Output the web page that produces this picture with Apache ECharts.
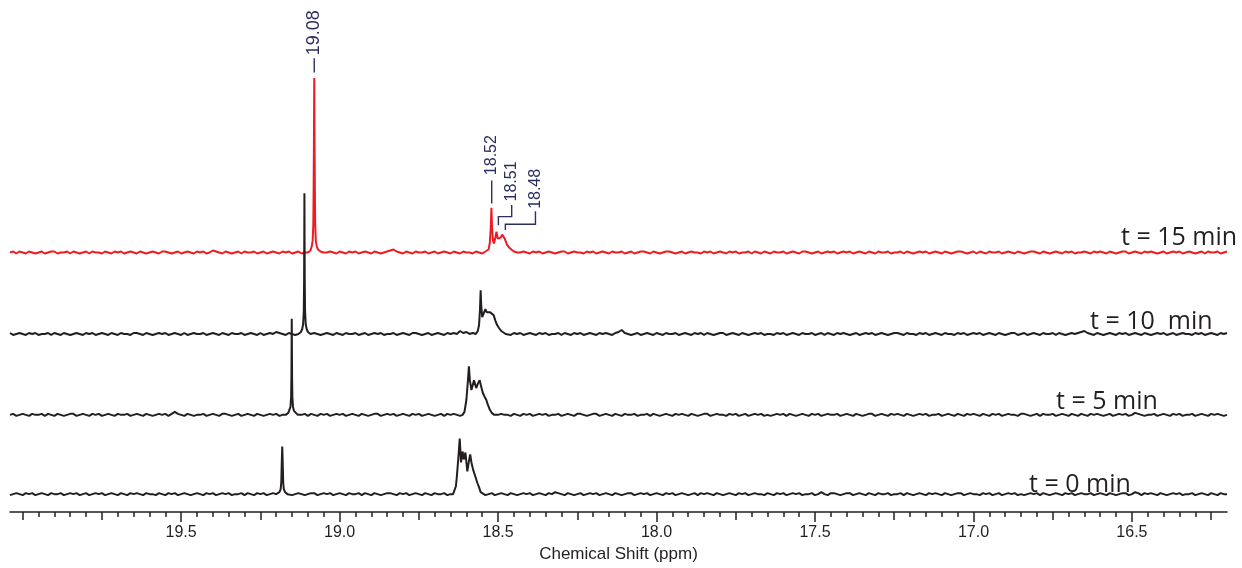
<!DOCTYPE html>
<html>
<head>
<meta charset="utf-8">
<script src="https://cdn.jsdelivr.net/npm/echarts@6/dist/echarts.min.js"></script>
<style>
html,body{margin:0;padding:0;background:#fff}
#nmr{width:1242px;height:568px}
</style>
</head>
<body>
<div id="nmr"></div>
<script>
// stacked 1H NMR spectra, 19.2 - 18.4 ppm region, four reaction times

// axis ticks (ppm)
const majorTicks = [16.5, 17.0, 17.5, 18.0, 18.5, 19.0, 19.5];
const mediumTicks = [16.25, 16.75, 17.25, 17.75, 18.25, 18.75, 19.25, 19.75, 20.0];
const tickLabels = [16.5, 17.0, 17.5, 18.0, 18.5, 19.0, 19.5];

// trace names, top to bottom
const traceNames = ["t = 15 min", "t = 10  min", "t = 5 min", "t = 0 min"];

// baseline noise, sampled from 20.04 ppm down to 16.20 ppm every 0.01 ppm
const noiseStart = 20.04;
const noiseStep = 0.01;
const noise15 = [
  0,1,-1,1,0,-1,1,0,-1,0,1,-1,0,1,1,-1,0,0,1,-1,
  1,0,-1,0,1,-1,1,0,0,-1,1,0,-1,1,0,1,-1,0,1,0,
  -1,1,0,-1,0,1,0,-1,1,1,0,-1,0,1,-1,0,1,0,-1,1,
  0,1,-1,0,2,1,0,-1,1,0,-1,0,1,-1,1,0,0,1,-1,0,
  1,-1,0,1,0,-1,1,0,1,-1,0,1,-1,0,1,0,-1,1,0,-1,
  0,1,0,-1,1,0,-1,1,0,1,-1,0,1,0,-1,1,0,-1,0,1,
  2,3,1,0,-1,1,0,-1,1,0,0,1,-1,0,1,-1,0,1,0,-1,
  1,0,-1,1,0,0,-1,1,0,-1,1,0,1,-1,0,1,0,-1,1,0,
  -1,0,1,0,-1,1,0,1,-1,0,1,0,-1,0,1,1,-1,0,1,0,
  0,-1,1,0,1,-1,0,1,0,-1,1,0,0,1,-1,0,1,-1,0,1,
  1,0,-1,1,0,-1,0,1,1,0,-1,0,1,-1,0,1,0,0,-1,1,
  0,1,-1,0,1,0,-1,1,0,1,-1,0,0,1,-1,1,0,-1,1,0,
  -1,1,0,0,1,-1,0,1,0,-1,1,1,0,-1,0,1,-1,0,1,0,
  1,-1,0,1,0,1,-1,0,1,0,-1,1,0,-1,1,0,0,1,-1,0,
  0,1,-1,1,0,-1,0,1,0,1,-1,0,1,0,-1,1,0,-1,0,1,
  1,0,-1,0,1,-1,1,0,-1,1,0,0,1,-1,0,1,0,-1,1,0,
  -1,0,1,1,0,-1,1,0,-1,0,1,0,-1,1,0,1,-1,0,0,1,
  0,-1,1,0,1,0,-1,1,0,-1,0,1,1,-1,0,1,0,-1,1,0,
  1,0,-1,0,1,-1,0,1,0,1,-1,0,1,0,-1,0,1,-1,1,0,
  0,1,-1,0,1
];
const noise10 = [
  1,-1,0,1,0,-1,1,0,1,-1,0,0,1,-1,1,0,-1,1,0,-1,
  0,1,0,-1,1,0,1,-1,0,1,0,-1,1,0,-1,1,0,0,-1,1,
  1,0,-1,1,0,-1,0,1,0,1,-1,0,1,0,-1,1,-1,0,1,0,
  0,1,-1,0,1,0,-1,1,0,-1,1,0,0,1,-1,0,1,0,-1,1,
  -1,0,1,0,2,1,0,-1,1,0,-1,1,0,1,-1,0,1,0,-1,0,
  1,0,-1,1,0,-1,1,0,0,1,-1,0,1,-1,0,1,0,1,-1,0,
  0,1,-1,0,1,0,-1,1,1,0,-1,0,1,-1,0,1,0,-1,1,0,
  1,0,3,1,2,0,1,0,-1,1,0,-1,0,1,0,-1,1,0,-1,1,
  0,1,-1,0,1,0,-1,1,0,1,-1,0,0,1,-1,1,0,-1,1,0,
  1,-1,0,1,0,-1,1,0,1,0,-1,1,2,4,1,0,-1,0,1,-1,
  0,1,0,-1,1,0,-1,1,0,0,1,-1,0,1,0,-1,1,0,1,-1,
  1,0,-1,0,1,1,-1,0,1,0,-1,1,0,-1,0,1,0,1,-1,0,
  0,-1,1,0,1,-1,0,1,0,-1,1,0,0,1,-1,0,1,-1,1,0,
  -1,1,0,1,0,-1,0,1,-1,0,1,0,1,-1,0,1,0,-1,0,1,
  1,0,-1,1,0,0,-1,1,0,1,-1,0,1,0,-1,1,0,0,-1,1,
  0,1,-1,0,1,0,1,-1,0,1,0,-1,1,0,-1,0,1,1,-1,0,
  1,-1,0,1,0,-1,1,0,0,1,-1,1,0,-1,0,1,0,1,2,3,
  1,0,-1,1,0,-1,0,1,0,-1,1,0,1,-1,0,1,0,-1,1,0,
  -1,0,1,0,1,-1,0,1,-1,0,1,0,0,-1,1,0,1,-1,0,1,
  0,-1,1,0,1
];
const noise5 = [
  0,1,-1,0,1,0,-1,1,0,0,1,-1,1,0,-1,1,0,-1,0,1,
  1,-1,0,1,0,-1,1,0,1,-1,0,1,0,-1,1,0,0,1,-1,0,
  1,0,-1,1,0,-1,0,1,0,1,-1,1,3,1,0,-1,1,0,-1,0,
  0,1,-1,0,1,0,-1,1,1,0,-1,0,1,-1,0,1,0,-1,1,0,
  -1,0,1,0,1,-1,0,1,0,-1,1,0,0,1,-1,1,0,-1,1,0,
  1,-1,0,1,0,1,-1,0,1,0,-1,1,0,-1,0,1,1,-1,0,1,
  0,1,-1,0,1,0,-1,1,0,1,-1,0,1,0,-1,0,1,-1,1,0,
  1,0,-1,1,0,-1,0,1,0,-1,1,0,1,-1,0,1,0,0,-1,1,
  0,-1,1,0,1,-1,0,1,0,1,-1,0,0,1,-1,0,1,0,-1,1,
  1,0,-1,0,1,1,-1,0,1,0,-1,1,0,-1,1,0,0,1,-1,0,
  0,1,-1,1,0,-1,0,1,0,-1,1,0,1,0,-1,1,0,-1,0,1,
  1,-1,0,1,0,0,-1,1,0,1,-1,0,1,-1,0,1,0,1,-1,0,
  -1,0,1,0,1,-1,1,0,-1,0,1,0,-1,1,0,1,-1,0,1,0,
  0,1,-1,0,1,0,-1,1,0,-1,0,1,1,-1,0,1,0,-1,1,0,
  1,0,-1,1,0,-1,0,1,0,1,-1,0,0,1,-1,0,1,0,-1,1,
  0,-1,1,0,1,0,-1,1,0,-1,1,0,1,-1,0,1,0,0,-1,1,
  1,0,-1,0,1,-1,1,0,0,1,-1,0,1,0,-1,1,0,-1,1,0,
  -1,1,0,1,0,-1,0,1,-1,0,1,0,1,-1,0,2,1,0,-1,0,
  0,1,-1,0,1,0,-1,1,0,1,-1,0,0,1,-1,0,1,0,-1,1,
  0,1,0,-1,0
];
const noise0 = [
  -1,0,1,0,-1,1,0,1,-1,0,1,0,-1,1,0,0,1,-1,0,1,
  0,1,-1,0,1,-1,0,1,0,1,-1,0,1,0,-1,1,0,-1,1,0,
  1,0,-1,1,0,0,-1,1,0,-1,1,0,1,-1,0,1,0,-1,0,1,
  0,-1,1,0,1,-1,0,1,0,1,-1,0,0,1,-1,1,0,-1,1,0,
  1,-1,0,1,0,-1,1,0,1,-1,0,1,0,-1,0,1,1,-1,0,1,
  0,1,-1,0,1,0,-1,1,0,0,1,-1,1,0,-1,1,0,-1,0,1,
  1,0,-1,1,0,1,-1,0,1,0,-1,1,0,-1,1,0,0,1,-1,0,
  0,1,-1,0,1,0,-1,1,1,0,-1,0,1,-1,0,1,0,-1,1,0,
  -1,0,1,0,1,-1,0,1,0,-1,1,0,2,1,0,-1,1,0,-1,0,
  1,-1,0,1,0,1,-1,0,1,0,-1,1,0,-1,0,1,1,-1,0,1,
  0,1,-1,0,1,0,-1,1,0,1,-1,0,1,0,-1,0,1,-1,1,0,
  1,0,-1,1,0,-1,0,1,0,-1,1,0,1,-1,0,1,0,0,-1,1,
  0,-1,1,0,1,-1,0,1,0,1,-1,0,0,1,-1,0,2,0,-1,1,
  1,0,-1,0,1,1,-1,0,1,0,-1,1,0,-1,1,0,0,1,-1,0,
  0,1,-1,1,0,-1,0,1,0,-1,1,0,1,0,-1,1,0,-1,0,1,
  1,-1,0,1,0,0,-1,1,0,1,-1,0,1,-1,0,1,0,1,-1,0,
  -1,0,1,0,1,-1,1,0,-1,0,1,0,-1,1,0,1,-1,0,1,0,
  0,1,-1,0,1,0,-1,1,0,-1,0,1,1,-1,0,2,1,-1,1,0,
  1,0,-1,1,0,-1,0,1,0,1,-1,0,0,1,-1,0,1,0,-1,1,
  0,-1,1,0,0
];

// singlets [ppm, intensity]
const single15 = [[19.100,0],[19.092,2],[19.088,6],[19.085,12],[19.083,28],[19.082,60],[19.081,110],[19.080,176],[19.079,110],[19.078,60],[19.077,28],[19.075,12],[19.072,6],[19.068,3],[19.060,1],[19.052,0]];
const single10 = [[19.130,0],[19.122,2],[19.118,5],[19.115,10],[19.113,24],[19.112,55],[19.1115,95],[19.111,142],[19.1105,95],[19.110,55],[19.109,24],[19.107,10],[19.104,5],[19.100,2],[19.092,0]];
const single5 = [[19.170,0],[19.162,2],[19.158,4],[19.155,8],[19.153,18],[19.152,40],[19.1515,68],[19.151,97],[19.1505,68],[19.150,40],[19.149,18],[19.147,8],[19.144,4],[19.140,2],[19.132,0]];
const single0 = [[19.198,0],[19.190,2],[19.186,5],[19.184,12],[19.183,25],[19.182,38],[19.181,48],[19.180,38],[19.179,25],[19.178,12],[19.176,5],[19.172,2],[19.164,0]];

// multiplets [ppm, intensity]
const multi15 = [[18.536,0],[18.530,3],[18.526,10],[18.523,25],[18.521,45],[18.519,25],[18.516,12],[18.513,9],[18.509,14],[18.505,21],[18.501,14],[18.497,13],[18.492,15],[18.487,18],[18.484,18],[18.479,14],[18.472,8],[18.465,5],[18.458,3],[18.450,1],[18.440,0]];
const multi10 = [[18.570,0],[18.564,3],[18.560,9],[18.557,25],[18.555,44],[18.553,28],[18.550,17],[18.545,21],[18.540,25],[18.536,22],[18.532,20],[18.526,22],[18.520,24],[18.514,19],[18.508,13],[18.503,9],[18.497,6],[18.490,3],[18.484,1],[18.476,0]];
const multi5 = [[18.612,0],[18.606,3],[18.600,15],[18.595,35],[18.592,49],[18.589,35],[18.584,25],[18.576,35],[18.569,27],[18.563,32],[18.558,35],[18.553,28],[18.548,22],[18.542,18],[18.537,15],[18.532,10],[18.527,6],[18.520,2],[18.512,0]];
const multi0 = [[18.642,0],[18.637,2],[18.633,8],[18.630,18],[18.625,38],[18.621,56],[18.619,45],[18.617,32],[18.612,43],[18.608,35],[18.603,42],[18.597,23],[18.592,33],[18.588,40],[18.584,32],[18.579,25],[18.571,17],[18.565,11],[18.560,7],[18.555,2],[18.549,0]];

// peak picking labels on the top trace
const annoLabels = ["19.08", "18.52", "18.51", "18.48"];
const annoTextPpm = [19.08, 18.52, 18.457, 18.382];
const annoPeakPpm = [19.08, 18.52, 18.499, 18.477];
const annoTextY = [199, 78, 51.5, 44];
const annoTopY = [196, 72.5, 47.8, 41.5];
const annoElbowY = [181.5, 49.5, 36.2, 28.5];
const annoEndY = [181.5, 49.5, 27.5, 22.8];
const annoFont = [18, 16, 16, 16];

// stacking
const traceOffset = [243.8, 161.6, 80, 0];
const traceColor = ["#ed1c24", "#231f20", "#231f20", "#231f20"];
const labelPos = [[1121, 238], [1090, 322], [1056, 402], [1029, 485]];

function buildTrace(noise, peaks) {
  let pts = [];
  noise.forEach((v, i) => {
    let ppm = +(noiseStart - noiseStep * i).toFixed(3);
    let inside = peaks.some(p => ppm <= p[0][0] && ppm >= p[p.length - 1][0]);
    if (!inside) pts.push([ppm, v]);
  });
  peaks.forEach(p => p.forEach(q => pts.push(q)));
  pts.sort((a, b) => b[0] - a[0]);
  return pts;
}

const traces = [
  buildTrace(noise15, [single15, multi15]),
  buildTrace(noise10, [single10, multi10]),
  buildTrace(noise5, [single5, multi5]),
  buildTrace(noise0, [single0, multi0])
];

let minorTicks = [];
for (let k = 326; k <= 400; k++) {
  if (k % 5 !== 0) minorTicks.push(+(k * 0.05).toFixed(2));
}

const axisColor = "#231f20";
const navy = "#2b2e5e";

function xAxisBase() {
  return {
    type: "value",
    gridIndex: 0,
    position: "bottom",
    offset: 0,
    min: 16.2,
    max: 20.04,
    inverse: true,
    splitLine: { show: false },
    axisLine: { show: false, onZero: false },
    axisLabel: { show: false }
  };
}

let axMajor = xAxisBase();
axMajor.axisLine = { show: true, onZero: false, lineStyle: { color: axisColor, width: 1.5 } };
axMajor.axisTick = { show: true, inside: false, length: 10, customValues: majorTicks, lineStyle: { color: axisColor, width: 1.5 } };
axMajor.axisLabel = {
  show: true, customValues: tickLabels, margin: 13,
  formatter: v => v.toFixed(1),
  color: axisColor, fontSize: 16, fontFamily: "Liberation Sans"
};
axMajor.name = "Chemical Shift (ppm)";
axMajor.nameLocation = "middle";
axMajor.nameGap = 34;
axMajor.nameTextStyle = { color: axisColor, fontSize: 17, fontFamily: "Liberation Sans" };

let axMedium = xAxisBase();
axMedium.axisTick = { show: true, length: 8, customValues: mediumTicks, lineStyle: { color: axisColor, width: 1.5 } };

let axMinor = xAxisBase();
axMinor.axisTick = { show: true, length: 5, customValues: minorTicks, lineStyle: { color: axisColor, width: 1.5 } };

let series = traces.map((d, i) => ({
  type: "line",
  xAxisIndex: 0,
  yAxisIndex: 0,
  showSymbol: false,
  symbol: "none",
  silent: true,
  lineStyle: { color: traceColor[i], width: 2 },
  data: d.map(p => [p[0], p[1] + traceOffset[i]])
}));

series.push({
  type: "custom",
  xAxisIndex: 0,
  yAxisIndex: 0,
  silent: true,
  data: annoLabels.map((t, i) => [annoTextPpm[i], annoPeakPpm[i], annoTextY[i], annoTopY[i], annoElbowY[i], annoEndY[i]]),
  renderItem: (params, api) => {
    let i = params.dataIndex;
    let off = traceOffset[0];
    let tx = api.value(0), ex = api.value(1);
    let pText = api.coord([tx, api.value(2) + off]);
    let pTop = api.coord([tx, api.value(3) + off]);
    let pA = api.coord([tx, api.value(4) + off]);
    let pB = api.coord([ex, api.value(4) + off]);
    let pEnd = api.coord([ex, api.value(5) + off]);
    return {
      type: "group",
      children: [
        { type: "polyline", shape: { points: [pTop, pA, pB, pEnd] }, style: { stroke: navy, lineWidth: 1.4, fill: null } },
        { type: "text", x: pText[0], y: pText[1], rotation: Math.PI / 2,
          style: { text: annoLabels[i], fill: navy, fontSize: annoFont[i], fontFamily: "Liberation Sans", align: "left", verticalAlign: "middle" } }
      ]
    };
  }
});

let myChart = echarts.init(document.getElementById("nmr"));
myChart.setOption({
  animation: false,
  backgroundColor: "#fff",
  grid: { left: 10, right: 15, top: 58, bottom: 52, containLabel: false },
  xAxis: [axMajor, axMedium, axMinor],
  yAxis: { type: "value", min: -18, max: 440, show: false, splitLine: { show: false } },
  graphic: traceNames.map((t, i) => ({
    type: "text",
    x: labelPos[i][0],
    y: labelPos[i][1],
    style: { text: t, fill: axisColor, fontSize: 25, fontFamily: "Open Sans", verticalAlign: "middle" }
  })),
  series: series
});
</script>
</body>
</html>
